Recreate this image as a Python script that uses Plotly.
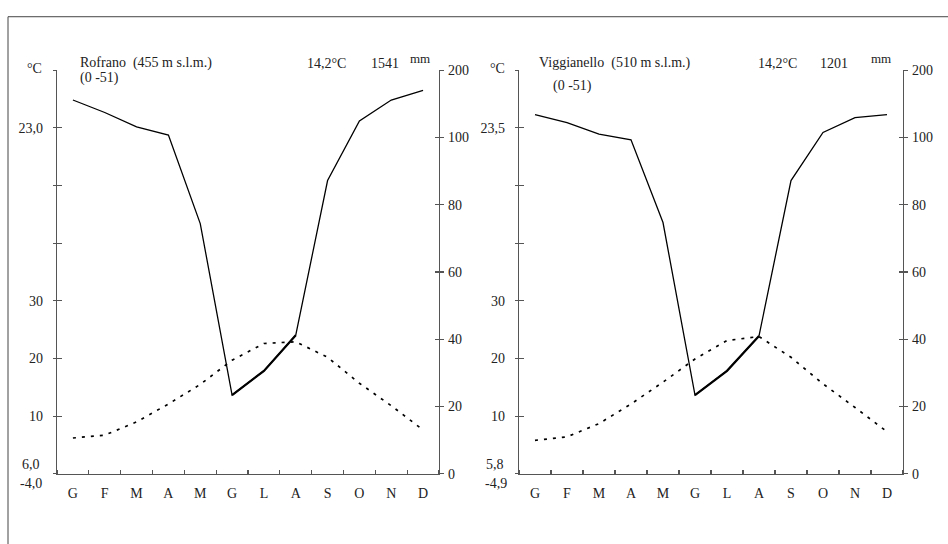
import plotly.graph_objects as go

# ---------------- data ----------------
months = ["G", "F", "M", "A", "M", "G", "L", "A", "S", "O", "N", "D"]

rofrano_temp = [6.2, 6.7, 9.0, 12.1, 15.5, 19.7, 22.6, 22.9, 20.2, 15.7, 11.8, 7.6]
rofrano_prec = [155.7, 137.1, 115.8, 103.6, 74.4, 23.4, 30.6, 41.2, 87.2, 124.4, 155.7, 170.0]

viggianello_temp = [5.8, 6.4, 8.7, 12.1, 15.9, 19.9, 23.1, 23.8, 20.2, 15.6, 11.5, 7.3]
viggianello_prec = [134.0, 122.0, 105.0, 99.3, 74.7, 23.4, 30.6, 41.0, 87.2, 107.5, 129.5, 134.0]

temp_tickvals = [0, 10, 20, 30, 40, 50, 60, 70]
rofrano_temp_ticks = ["", "10", "20", "30", "", "", "23,0", ""]
viggianello_temp_ticks = ["", "10", "20", "30", "", "", "23,5", ""]
prec_tick_mm = [0, 20, 40, 60, 80, 100, 200]

W, H = 948, 544
FONT = "Liberation Serif, Times New Roman, serif"
AX = "#555555"
FS = 14


def to_axis(p):
    # Walter-Lieth style: compressed scale above 100 mm
    return p if p <= 100 else 100 + (p - 100) / 5.0


def px(x):
    return x / W


def py(y):
    return 1 - y / H


x_idx = list(range(12))
D0, D1 = py(480), py(65)

fig = go.Figure()


def add_panel(xa, ya_t, ya_p, temp, prec):
    xr = "x" if xa == 1 else f"x{xa}"
    yt = "y" if ya_t == 1 else f"y{ya_t}"
    yp = f"y{ya_p}"
    fig.add_trace(go.Scatter(x=x_idx, y=temp, xaxis=xr, yaxis=yt, mode="lines",
                             line=dict(color="black", width=1.7, dash="3px,6px"),
                             showlegend=False, hoverinfo="skip"))
    pv = [to_axis(v) for v in prec]
    fig.add_trace(go.Scatter(x=x_idx, y=pv, xaxis=xr, yaxis=yp, mode="lines",
                             line=dict(color="black", width=1.3),
                             showlegend=False, hoverinfo="skip"))
    fig.add_trace(go.Scatter(x=x_idx[5:8], y=pv[5:8], xaxis=xr, yaxis=yp, mode="lines",
                             line=dict(color="black", width=2.2),
                             showlegend=False, hoverinfo="skip"))


add_panel(1, 1, 2, rofrano_temp, rofrano_prec)
add_panel(2, 5, 6, viggianello_temp, viggianello_prec)

# dummy traces so overlay axes (inside ticks) are drawn
for xr, yr in [("x", "y3"), ("x", "y4"), ("x2", "y7"), ("x2", "y8")]:
    fig.add_trace(go.Scatter(x=[None], y=[None], xaxis=xr, yaxis=yr,
                             showlegend=False, hoverinfo="skip"))

tick_font = dict(family=FONT, size=FS, color="#222222")


def xaxis_def(dom, anchor):
    return dict(domain=dom, anchor=anchor, range=[-0.5, 11.5], showgrid=False,
                zeroline=False, showline=True, linecolor=AX, linewidth=1.3,
                tickmode="array", tickvals=x_idx, ticktext=months, ticks="",
                ticklabelstandoff=6, tickfont=tick_font,
                minor=dict(tickmode="linear", tick0=-0.5, dtick=1, ticks="inside",
                           ticklen=4, tickcolor=AX, tickwidth=1.2, showgrid=False))


def temp_axis(anchor, ticktext, overlay=None, inside=False):
    d = dict(domain=[D0, D1], anchor=anchor, range=[0, 70], side="left",
             showgrid=False, zeroline=False, tickmode="array",
             tickvals=temp_tickvals, tickcolor=AX, tickwidth=1.2)
    if inside:
        d.update(overlaying=overlay, ticks="inside", ticklen=5, showline=False,
                 showticklabels=False)
    else:
        d.update(ticks="outside", ticklen=3, showline=True, linecolor=AX,
                 linewidth=1.3, ticktext=ticktext, tickfont=tick_font,
                 ticklabelstandoff=7)
    return d


def prec_axis(anchor, overlay, inside=False):
    d = dict(anchor=anchor, overlaying=overlay, side="right", range=[0, 120],
             showgrid=False, zeroline=False, tickmode="array",
             tickvals=[to_axis(v) for v in prec_tick_mm], tickcolor=AX, tickwidth=1.2)
    if inside:
        d.update(ticks="inside", ticklen=4, showline=False, showticklabels=False)
    else:
        d.update(ticks="outside", ticklen=4, showline=True, linecolor=AX,
                 linewidth=1.3, ticktext=[str(v) for v in prec_tick_mm],
                 tickfont=tick_font, ticklabelstandoff=1)
    return d


fig.update_layout(
    width=W, height=H, autosize=False,
    margin=dict(l=0, r=0, t=0, b=0),
    paper_bgcolor="white", plot_bgcolor="white",
    showlegend=False,
    xaxis=xaxis_def([px(57), px(439)], "y"),
    yaxis=temp_axis("x", rofrano_temp_ticks),
    yaxis2=prec_axis("x", "y"),
    yaxis3=temp_axis("x", None, overlay="y", inside=True),
    yaxis4=prec_axis("x", "y", inside=True),
    xaxis2=xaxis_def([px(519), px(903)], "y5"),
    yaxis5=temp_axis("x2", viggianello_temp_ticks),
    yaxis6=prec_axis("x2", "y5"),
    yaxis7=temp_axis("x2", None, overlay="y5", inside=True),
    yaxis8=prec_axis("x2", "y5", inside=True),
)

NB = "\u00a0"


def ann(text, x, y, xanchor="left", size=FS):
    fig.add_annotation(text=text, x=px(x), y=py(y), xref="paper", yref="paper",
                       xanchor=xanchor, yanchor="middle", showarrow=False,
                       font=dict(family=FONT, size=size, color="#222222"))


# left panel texts
ann(f"Rofrano{NB}{NB}(455 m s.l.m.)", 78, 58)
ann("(0 -51)", 78, 73)
ann("14,2°C", 305, 58)
ann("1541", 369, 58)
ann("mm", 408, 53, size=13)
ann("°C", 44, 63, xanchor="right")
ann("6,0", 42, 470, xanchor="right")
ann("-4,0", 44, 490, xanchor="right")

# right panel texts
ann(f"Viggianello{NB}{NB}(510 m s.l.m.)", 537, 58)
ann("(0 -51)", 551, 81)
ann("14,2°C", 756, 58)
ann("1201", 818, 58)
ann("mm", 869, 53, size=13)
ann("°C", 507, 63, xanchor="right")
ann("5,8", 506, 470, xanchor="right")
ann("-4,9", 509, 490, xanchor="right")

# outer frame
fig.add_shape(type="rect", xref="paper", yref="paper",
              x0=px(8), y0=py(560), x1=px(960), y1=py(10),
              line=dict(color="#444444", width=1), fillcolor="rgba(0,0,0,0)")

fig.write_html("out.html",
               config={"displayModeBar": False, "staticPlot": True},
               post_script="document.body.style.margin='0';document.body.style.overflow='hidden';")
